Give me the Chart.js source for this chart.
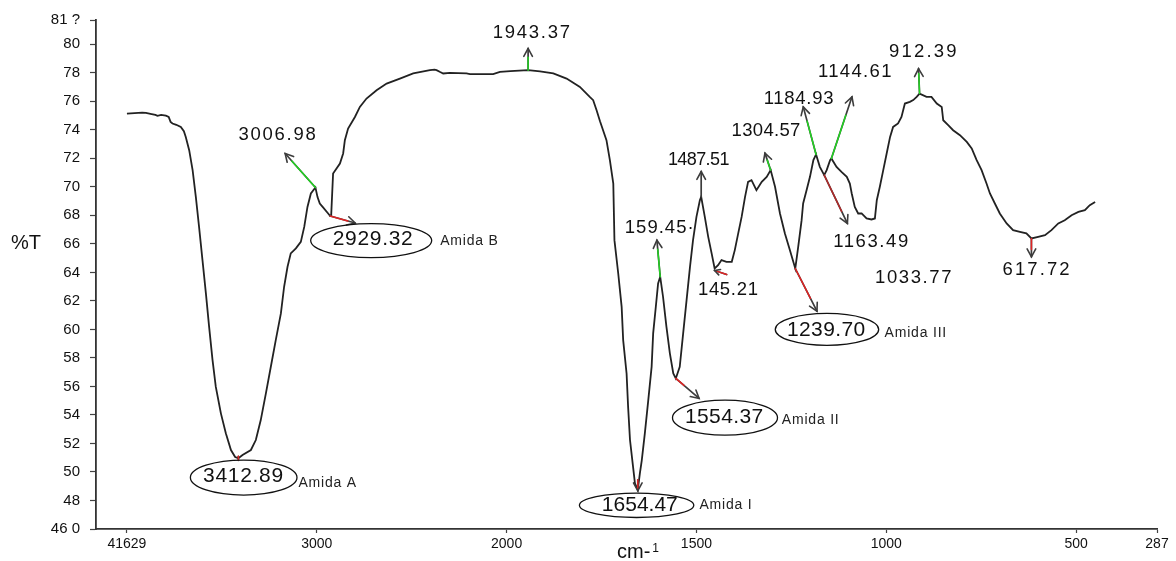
<!DOCTYPE html>
<html>
<head>
<meta charset="utf-8">
<script src="https://cdn.jsdelivr.net/npm/chart.js@4.4.0/dist/chart.umd.min.js"></script>
<style>
  html, body { margin: 0; padding: 0; background: #ffffff; }
  canvas { display: block; }
</style>
</head>
<body>
<canvas id="ftir" width="1176" height="561"></canvas>
<script>
// FTIR spectrum: wavenumber (cm-1) and transmittance (%T)
const wavenumbers = [
  4000, 3960, 3920, 3900, 3870, 3850, 3839, 3820, 3795, 3780, 3770, 3760, 3740, 3716, 3700, 3690,
  3672, 3654, 3637, 3620, 3602, 3584, 3567, 3549, 3532, 3505, 3479, 3452, 3430, 3412.89, 3391, 3347,
  3321, 3295, 3268, 3242, 3216, 3189, 3172, 3154, 3137, 3110, 3084, 3066, 3049, 3031, 3006.98, 2996,
  2984, 2969, 2940, 2929.32, 2924, 2914, 2878, 2861, 2852, 2835, 2799, 2773, 2738, 2685, 2632, 2562,
  2492, 2404, 2380, 2369, 2350, 2334, 2299, 2211, 2193, 2071, 2035, 1990, 1943.37, 1912, 1877, 1842,
  1807, 1781, 1772, 1763, 1754, 1737, 1728, 1719, 1716, 1706, 1697, 1693, 1684, 1680, 1675, 1667,
  1662, 1654.47, 1649, 1644, 1636, 1627, 1618, 1614, 1607, 1601, 1595.45, 1588, 1579, 1570, 1561, 1554.37,
  1544, 1535, 1526, 1517, 1509, 1500, 1491, 1487.51, 1478, 1469, 1460, 1452.1, 1443, 1434, 1421, 1407,
  1399, 1390, 1381, 1372, 1364, 1355, 1342, 1328, 1315, 1304.57, 1293, 1280, 1267, 1254, 1239.70, 1232,
  1223, 1219, 1210, 1201, 1192, 1184.93, 1175, 1163.49, 1157, 1148, 1144.61, 1131, 1118, 1104, 1096, 1091,
  1083, 1074, 1065, 1052, 1039, 1030, 1025, 1017, 1008, 999, 990, 982, 969, 960, 951, 938,
  929, 920, 912.39, 894, 881, 867, 854, 850, 837, 824, 806, 788, 775, 762, 749, 736,
  727, 714, 701, 683, 666, 648, 631, 617.72, 600, 582, 565, 547, 530, 512, 494, 477,
  464, 450
];
const transmittance = [
  75.14, 75.17, 75.20, 75.18, 75.10, 75.05, 74.98, 75.05, 74.99, 74.90, 74.55, 74.44, 74.35, 74.20, 73.90, 73.50,
  72.57, 71.17, 69.30, 67.19, 64.86, 62.52, 60.18, 57.85, 55.98, 54.11, 52.71, 51.54, 51.05, 50.96, 51.19, 51.54,
  52.24, 53.64, 55.51, 57.38, 59.25, 61.12, 62.99, 64.39, 65.33, 65.68, 66.14, 67.19, 68.59, 69.53, 69.95, 69.28,
  68.83, 68.59, 68.13, 67.95, 68.00, 70.93, 71.63, 72.34, 73.27, 74.09, 74.90, 75.60, 76.19, 76.77, 77.24, 77.59,
  77.95, 78.18, 78.22, 78.18, 78.05, 77.95, 77.99, 77.95, 77.90, 77.90, 78.06, 78.12, 78.18, 78.10, 77.95, 77.59,
  77.01, 76.31, 76.08, 75.37, 74.60, 73.27, 71.87, 70.23, 66.26, 63.92, 61.58, 59.25, 56.91, 54.57, 52.24, 50.37,
  49.20, 48.75, 49.90, 50.82, 52.69, 55.00, 57.39, 59.72, 61.59, 63.22, 63.69, 62.29, 60.18, 58.32, 56.91, 56.56,
  57.38, 59.72, 62.05, 64.39, 66.26, 67.89, 69.06, 69.30, 67.89, 66.49, 65.33, 64.27, 64.50, 64.86, 64.74, 64.74,
  65.56, 66.73, 67.89, 69.30, 70.35, 70.47, 69.76, 70.35, 70.70, 71.17, 70.00, 68.13, 66.73, 65.56, 64.27, 65.79,
  67.66, 68.83, 69.76, 70.70, 71.87, 72.27, 71.40, 70.82, 71.17, 71.87, 71.99, 71.40, 71.05, 70.70, 70.23, 69.53,
  68.59, 68.13, 68.13, 67.78, 67.71, 67.78, 69.06, 70.00, 71.17, 72.34, 73.50, 74.20, 74.44, 74.90, 75.84, 75.96,
  76.08, 76.31, 76.54, 76.31, 76.31, 75.84, 75.60, 74.67, 74.32, 73.97, 73.62, 73.15, 72.69, 71.87, 71.17, 70.23,
  69.53, 68.83, 68.13, 67.43, 66.96, 66.84, 66.73, 66.38, 66.49, 66.61, 66.96, 67.43, 67.66, 68.01, 68.24, 68.36,
  68.71, 68.94
];

// Axis ticks and their printed labels
const xTickValues = [4000, 3000, 2000, 1500, 1000, 500, 287];
const xTickLabels = ['41629', '3000', '2000', '1500', '1000', '500', '287'];
const yTickValues = [46, 48, 50, 52, 54, 56, 58, 60, 62, 64, 66, 68, 70, 72, 74, 76, 78, 80, 81.7];
const yTickLabels = ['46 0', '48', '50', '52', '54', '56', '58', '60', '62', '64', '66', '68', '70', '72', '74', '76', '78', '80', '81 ?'];

// Assigned bands
const peakWavenumbers = [3412.89, 3006.98, 2929.32, 1943.37, 1595.45, 1554.37, 1654.47, 1487.51, 1452.1,
                         1304.57, 1239.70, 1184.93, 1163.49, 1144.61, 912.39, 617.72, 1033.77];
const peakLabels = ['3412.89', '3006.98', '2929.32', '1943.37', '159.45·', '1554.37', '1654.47', '1487.51', '145.21',
                    '1304.57', '1239.70', '1184.93', '1163.49', '1144.61', '912.39', '617.72', '1033.77'];
const bandNames = ['Amida A', '', 'Amida B', '', '', 'Amida II', 'Amida I', '', '',
                   '', 'Amida III', '', '', '', '', '', ''];

const FONT = "'Liberation Sans', Arial, Helvetica, sans-serif";
const GREEN = '#22d422';
const RED = '#e02424';
const DARKRED = '#b02a2a';
const INK = '#3c3c3c';

// Marker drawing styles (pixel offsets from each band's point on the curve)
const markerStyles = [
  { arrow: { from: [0, -2], to: [0, 2], color: RED, frac: 1, head: false }, text: [4.7, 17.6], size: 21, ls: 0.7,
    ellipse: { c: [5.3, 19.3], r: [53.3, 17.5] }, note: [60, 25.1] },
  { arrow: { to: [-30.3, -34], color: GREEN, frac: 0.78 }, text: [-38.3, -53], size: 18.5, ls: 1.7 },
  { arrow: { to: [25, 7], color: RED, frac: 0.7 }, text: [42.5, 23.5], size: 21, ls: 0.7,
    ellipse: { c: [41, 24.5], r: [60.5, 17] }, note: [110, 25] },
  { arrow: { to: [0, -21.7], color: GREEN, frac: 0.6 }, text: [3.3, -37.7], size: 18.5, ls: 1.7 },
  { arrow: { to: [-3.3, -36.7], color: GREEN, frac: 0.75 }, text: [-1, -48.4], size: 18.5, ls: 1.0 },
  { arrow: { to: [23.3, 20], color: RED, frac: 0.35 }, text: [48.3, 38.4], size: 21, ls: 0.4,
    ellipse: { c: [49.2, 39.2], r: [52.5, 17.5] }, note: [106, 41.7] },
  { arrow: { from: [0, -10], to: [0, 1], color: RED, frac: 0.8 }, text: [2, 15.2], size: 21, ls: 0,
    ellipse: { c: [-1.2, 15.5], r: [57.2, 12.2] }, note: [61.6, 15.2] },
  { arrow: { to: [0, -25.3], color: null, frac: 0 }, text: [-2.5, -37], size: 18, ls: -0.6 },
  { arrow: { from: [12, 6], to: [0, 2], color: RED, frac: 0.9, small: true }, text: [13.3, 21.5], size: 18.5, ls: 0.7 },
  { arrow: { to: [-5.7, -17], color: GREEN, frac: 0.6 }, text: [-4.7, -39], size: 18.5, ls: 0.3 },
  { arrow: { to: [21.7, 42.7], color: RED, frac: 0.7 }, text: [30.8, 61.7], size: 21, ls: 0.4,
    ellipse: { c: [31.7, 60.9], r: [51.7, 16] }, note: [89.3, 64.4] },
  { arrow: { to: [-12.8, -47.6], color: GREEN, frac: 0.7 }, text: [-17.5, -55.3], size: 18.5, ls: 0.7 },
  { arrow: { to: [23.2, 48.3], color: DARKRED, frac: 0.75 }, text: [46.5, 66.7], size: 18.5, ls: 1.6 },
  { arrow: { to: [20.6, -61.6], color: GREEN, frac: 0.7 }, text: [23.3, -86.6], size: 18.5, ls: 1.35 },
  { arrow: { to: [-1, -25], color: GREEN, frac: 0.8 }, text: [3.3, -41.6], size: 18.5, ls: 2.2 },
  { arrow: { to: [0, 18.4], color: RED, frac: 0.6 }, text: [4.6, 31.7], size: 18.5, ls: 2.1 },
  { arrow: null, text: [39.8, 59.4], size: 18.5, ls: 1.6 }
];

// %T on the curve at a given wavenumber (linear between neighbouring samples)
function valueAt(w) {
  for (let i = 0; i < wavenumbers.length - 1; i++) {
    const a = wavenumbers[i], b = wavenumbers[i + 1];
    if ((w <= a && w >= b) || (w >= a && w <= b)) {
      if (a === b) return transmittance[i];
      const t = (w - a) / (b - a);
      return transmittance[i] + t * (transmittance[i + 1] - transmittance[i]);
    }
  }
  return transmittance[transmittance.length - 1];
}

// Wavenumber axis: full scale below the split point, compressed above it
class SplitLinearScale extends Chart.LinearScale {
  _warp(v) {
    const s = this.options.split ?? 2000, f = this.options.splitFactor ?? 0.5;
    return v <= s ? v : s + (v - s) * f;
  }
  _unwarp(u) {
    const s = this.options.split ?? 2000, f = this.options.splitFactor ?? 0.5;
    return u <= s ? u : s + (u - s) / f;
  }
  getPixelForValue(value) {
    const a = this._warp(this.min), b = this._warp(this.max);
    return this.getPixelForDecimal((this._warp(value) - a) / (b - a));
  }
  getValueForPixel(pixel) {
    const a = this._warp(this.min), b = this._warp(this.max);
    return this._unwarp(a + this.getDecimalForPixel(pixel) * (b - a));
  }
}
SplitLinearScale.id = 'splitLinear';
SplitLinearScale.defaults = Chart.LinearScale.defaults;
Chart.register(SplitLinearScale);

function drawText(ctx, str, x, y, size, spacing, align, color) {
  ctx.save();
  ctx.font = `${size}px ${FONT}`;
  ctx.fillStyle = color || '#111';
  ctx.textBaseline = 'middle';
  ctx.letterSpacing = `${spacing}px`;
  if (align === 'center') {
    const w = ctx.measureText(str).width - spacing;
    ctx.textAlign = 'left';
    ctx.fillText(str, x - w / 2, y);
  } else {
    ctx.textAlign = align;
    ctx.fillText(str, x, y);
  }
  ctx.restore();
}

function drawArrow(ctx, x0, y0, x1, y1, spec) {
  ctx.save();
  ctx.lineCap = 'round';
  ctx.strokeStyle = INK;
  ctx.lineWidth = 1.7;
  ctx.beginPath(); ctx.moveTo(x0, y0); ctx.lineTo(x1, y1); ctx.stroke();
  if (spec.color && spec.frac > 0) {
    ctx.strokeStyle = spec.color;
    ctx.lineWidth = 1.5;
    ctx.beginPath();
    ctx.moveTo(x0, y0);
    ctx.lineTo(x0 + (x1 - x0) * spec.frac, y0 + (y1 - y0) * spec.frac);
    ctx.stroke();
  }
  if (spec.head !== false) {
    const ang = Math.atan2(y1 - y0, x1 - x0);
    const L = spec.small ? 6 : 9, spread = 0.5;
    ctx.strokeStyle = INK;
    ctx.lineWidth = 1.6;
    ctx.beginPath();
    ctx.moveTo(x1 - L * Math.cos(ang - spread), y1 - L * Math.sin(ang - spread));
    ctx.lineTo(x1, y1);
    ctx.lineTo(x1 - L * Math.cos(ang + spread), y1 - L * Math.sin(ang + spread));
    ctx.stroke();
  }
  ctx.restore();
}

const bandMarkers = {
  id: 'bandMarkers',
  afterDatasetsDraw(chart) {
    const { ctx } = chart;
    const xs = chart.scales.x, ys = chart.scales.y;
    peakWavenumbers.forEach((w, i) => {
      const st = markerStyles[i];
      const ax = xs.getPixelForValue(w);
      const ay = ys.getPixelForValue(valueAt(w));
      if (st.arrow) {
        const f = st.arrow.from || [0, 0], t = st.arrow.to;
        drawArrow(ctx, ax + f[0], ay + f[1], ax + t[0], ay + t[1], st.arrow);
      }
      if (st.ellipse) {
        ctx.save();
        ctx.strokeStyle = '#111';
        ctx.lineWidth = 1.3;
        ctx.beginPath();
        ctx.ellipse(ax + st.ellipse.c[0], ay + st.ellipse.c[1], st.ellipse.r[0], st.ellipse.r[1], 0, 0, Math.PI * 2);
        ctx.stroke();
        ctx.restore();
      }
      drawText(ctx, peakLabels[i], ax + st.text[0], ay + st.text[1], st.size, st.ls, 'center', '#111');
      if (bandNames[i]) {
        drawText(ctx, bandNames[i], ax + st.note[0], ay + st.note[1], 14, 0.8, 'left', '#222');
      }
    });
  }
};

const axisCaptions = {
  id: 'axisCaptions',
  afterDraw(chart) {
    const { ctx } = chart;
    drawText(ctx, '%T', 26, 243.5, 20, 0, 'center', '#111');
    ctx.save();
    ctx.fillStyle = '#111';
    ctx.textBaseline = 'alphabetic';
    ctx.textAlign = 'left';
    ctx.font = `20px ${FONT}`;
    ctx.fillText('cm-', 617, 557.5);
    const w = ctx.measureText('cm-').width;
    ctx.font = `12px ${FONT}`;
    ctx.fillText('1', 617 + w + 2, 552);
    ctx.restore();
  }
};

new Chart(document.getElementById('ftir'), {
  type: 'line',
  data: {
    datasets: [{
      data: wavenumbers.map((w, i) => ({ x: w, y: transmittance[i] })),
      borderColor: '#222222',
      borderWidth: 1.8,
      pointRadius: 0,
      fill: false,
      tension: 0
    }]
  },
  options: {
    responsive: false,
    animation: false,
    devicePixelRatio: 1,
    layout: { padding: { top: 20, right: 19, left: 0, bottom: 0 } },
    plugins: { legend: { display: false }, tooltip: { enabled: false } },
    scales: {
      x: {
        type: 'splitLinear',
        reverse: true,
        min: 287,
        max: 4162.9,
        split: 2000,
        splitFactor: 0.5,
        grid: { display: true, drawOnChartArea: false, drawTicks: true, tickLength: 4, tickColor: '#444', tickWidth: 1.2 },
        border: { display: true, color: '#333', width: 1.8 },
        ticks: {
          autoSkip: false, maxRotation: 0, minRotation: 0, padding: 3, color: '#111',
          font: { family: FONT, size: 14 },
          callback: (v) => { const k = xTickValues.indexOf(v); return k >= 0 ? xTickLabels[k] : ''; }
        },
        afterBuildTicks: (s) => { s.ticks = xTickValues.map(v => ({ value: v })); },
        afterFit: (s) => { s.height = 32; }
      },
      y: {
        type: 'linear',
        min: 46,
        max: 81.7,
        grid: { display: true, drawOnChartArea: false, drawTicks: true, tickLength: 6, tickColor: '#444', tickWidth: 1.2 },
        border: { display: true, color: '#333', width: 1.8 },
        ticks: {
          autoSkip: false, padding: 10, color: '#111',
          font: { family: FONT, size: 15 },
          callback: (v) => { const k = yTickValues.indexOf(v); return k >= 0 ? yTickLabels[k] : ''; }
        },
        afterBuildTicks: (s) => { s.ticks = yTickValues.map(v => ({ value: v })); },
        afterFit: (s) => { s.width = 96; }
      }
    }
  },
  plugins: [bandMarkers, axisCaptions]
});
</script>
</body>
</html>
